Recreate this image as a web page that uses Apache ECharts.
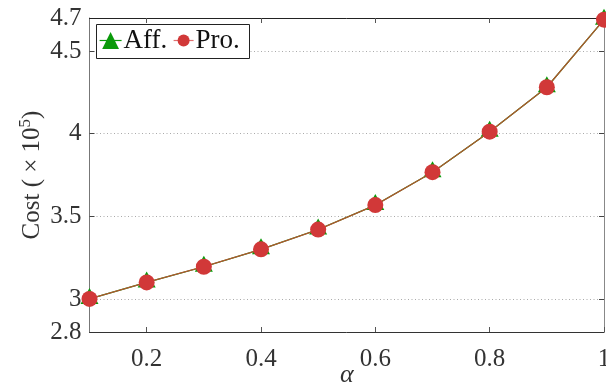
<!DOCTYPE html>
<html>
<head>
<meta charset="utf-8">
<script src="https://cdn.jsdelivr.net/npm/echarts@6/dist/echarts.min.js"></script>
<style>
  html, body { margin: 0; padding: 0; background: #fff; }
  #chart { width: 606px; height: 383px; }
</style>
</head>
<body>
<div id="chart"></div>
<script>
// Weight parameter alpha and the resulting cost (in units of 10^5)
const alpha = [0.1, 0.2, 0.3, 0.4, 0.5, 0.6, 0.7, 0.8, 0.9, 1.0];
const costAff = [3.00, 3.10, 3.195, 3.30, 3.42, 3.568, 3.767, 4.012, 4.281, 4.69];
const costPro = [3.00, 3.10, 3.195, 3.30, 3.42, 3.568, 3.767, 4.012, 4.281, 4.69];

const xTickLabels = [0.2, 0.4, 0.6, 0.8, 1];
const yTickLabels = [2.8, 3, 3.5, 4, 4.5, 4.7];
const yGridValues = [3, 3.5, 4, 4.5];

const FONT = 'Liberation Serif';
const GREEN = '#0a9a0a';
const RED = '#d13838';
const LINE = '#b0552f';

const chart = echarts.init(document.getElementById('chart'), null, { renderer: 'canvas' });

function frameX(pos, showLabels, color) {
  return {
    type: 'value', position: pos, min: 0.1, max: 1,
    axisLine: { show: true, onZero: false, lineStyle: { color: color, width: 1 } },
    axisTick: { show: true, inside: true, length: 5, customValues: xTickLabels, lineStyle: { color: '#555' } },
    axisLabel: showLabels ? {
      show: true, customValues: xTickLabels, margin: 15,
      fontFamily: FONT, fontSize: 25, color: '#333',
      formatter: v => String(v)
    } : { show: false },
    splitLine: { show: false }
  };
}

function frameY(pos, showLabels, color) {
  return {
    type: 'value', position: pos, min: 2.8, max: 4.7,
    axisLine: { show: true, onZero: false, lineStyle: { color: color, width: 1 } },
    axisTick: { show: true, inside: true, length: 5, customValues: yGridValues, lineStyle: { color: '#444' } },
    axisLabel: showLabels ? {
      show: true, customValues: yTickLabels, margin: 8,
      fontFamily: FONT, fontSize: 25, color: '#333',
      formatter: v => String(v)
    } : { show: false },
    splitLine: showLabels ? {
      show: true, lineStyle: { color: '#aaaaaa', type: [1, 2.5], width: 1 }
    } : { show: false }
  };
}

const xMain = frameX('bottom', true, '#333');
xMain.name = 'α';
xMain.nameLocation = 'middle';
xMain.nameGap = 30;
xMain.nameMoveOverlap = false;
xMain.nameTextStyle = { fontFamily: FONT, fontStyle: 'italic', fontSize: 26, color: '#333' };

const yMain = frameY('left', true, '#777');
yMain.name = '{t|Cost ( × 10}{s|5}{t|)}';
yMain.nameLocation = 'middle';
yMain.nameGap = 43;
yMain.nameRotate = 90;
yMain.nameMoveOverlap = false;
yMain.nameTextStyle = {
  rich: {
    t: { fontFamily: FONT, fontSize: 25, color: '#333' },
    s: { fontFamily: FONT, fontSize: 17, color: '#333', verticalAlign: 'top', padding: [0, 0, 12, 0] }
  }
};

const legendText = { fontFamily: FONT, fontSize: 27, color: '#111', padding: [0, 0, 0, -3] };

const option = {
  animation: false,
  backgroundColor: '#fff',
  grid: { left: 89.5, right: 2, top: 18, bottom: 51, outerBoundsMode: 'none', containLabel: false },
  graphic: [{
    type: 'rect', z: 3,
    shape: { x: 96.5, y: 24.5, width: 153, height: 34 },
    style: { fill: '#fff', stroke: '#222', lineWidth: 1 }
  }],
  legend: [
    {
      left: 99, top: 27, padding: 0,
      itemWidth: 22, itemHeight: 21,
      textStyle: legendText,
      data: [{ name: 'Aff.', itemStyle: { color: GREEN }, lineStyle: { color: GREEN, width: 1.2 } }]
    },
    {
      left: 173, top: 27, padding: 0,
      itemWidth: 20, itemHeight: 15,
      textStyle: legendText,
      data: [{ name: 'Pro.', itemStyle: { color: RED }, lineStyle: { color: '#e07070', width: 1.2 } }]
    }
  ],
  xAxis: [xMain, frameX('top', false, '#222')],
  yAxis: [yMain, frameY('right', false, '#888')],
  series: [
    {
      name: 'Aff.', type: 'line', xAxisIndex: 0, yAxisIndex: 0,
      data: alpha.map((a, i) => [a, costAff[i]]),
      symbol: 'triangle', symbolSize: [18, 16], symbolOffset: [0, -3],
      itemStyle: { color: GREEN },
      lineStyle: { color: GREEN, width: 1.2 },
      z: 2
    },
    {
      name: 'Pro.', type: 'line', xAxisIndex: 0, yAxisIndex: 0,
      data: alpha.map((a, i) => [a, costPro[i]]),
      symbol: 'circle', symbolSize: 16,
      itemStyle: { color: RED },
      lineStyle: { color: LINE, width: 1.3 },
      z: 3
    }
  ]
};

chart.setOption(option);
</script>
</body>
</html>
